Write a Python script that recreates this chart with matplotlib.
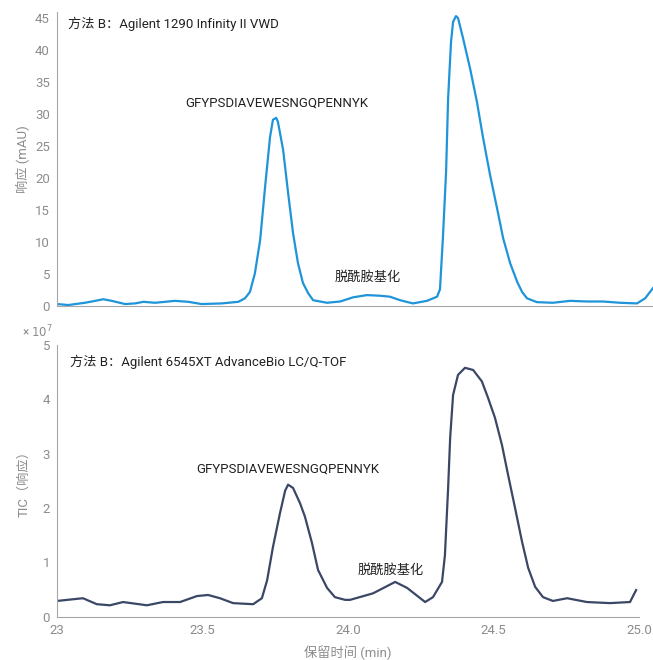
import numpy as np
import matplotlib.pyplot as plt

plt.rcParams['font.family'] = ['Roboto', 'Noto Sans CJK SC', 'DejaVu Sans']

# UV trace (VWD), mAU
uv_time = [23.000, 23.039, 23.096, 23.131, 23.159, 23.188, 23.234, 23.268, 23.297, 23.337,
           23.405, 23.451, 23.497, 23.566, 23.623, 23.646, 23.663, 23.680, 23.698, 23.715,
           23.732, 23.742, 23.753, 23.759, 23.777, 23.794, 23.811, 23.828, 23.845, 23.863,
           23.880, 23.928, 23.973, 24.017, 24.065, 24.110, 24.144, 24.179, 24.223, 24.271,
           24.306, 24.316, 24.326, 24.337, 24.344, 24.354, 24.361, 24.371, 24.378, 24.395,
           24.419, 24.443, 24.464, 24.488, 24.512, 24.533, 24.557, 24.581, 24.598, 24.615,
           24.649, 24.704, 24.763, 24.821, 24.876, 24.935, 24.993, 25.021, 25.048]
uv_resp = [0.3, 0.15, 0.5, 0.8, 1.05, 0.8, 0.3, 0.4, 0.65, 0.5,
           0.8, 0.65, 0.3, 0.4, 0.65, 1.2, 2.2, 5.1, 10.3, 18.6,
           26.4, 29.1, 29.4, 28.8, 24.4, 17.7, 11.4, 6.7, 3.6, 2.0,
           0.9, 0.5, 0.7, 1.35, 1.7, 1.6, 1.45, 0.9, 0.4, 0.8,
           1.45, 2.6, 10.6, 21.0, 32.5, 41.3, 44.4, 45.3, 45.0, 41.9,
           37.2, 31.9, 26.3, 20.5, 15.3, 10.6, 6.7, 3.8, 2.2, 1.2,
           0.6, 0.5, 0.8, 0.7, 0.7, 0.5, 0.4, 1.2, 2.8]

# MS trace (TIC), x 10^7
tic_time = [23.000, 23.089, 23.137, 23.182, 23.227, 23.309, 23.364, 23.423, 23.481, 23.519,
            23.560, 23.605, 23.674, 23.704, 23.722, 23.742, 23.766, 23.784, 23.794, 23.811,
            23.835, 23.852, 23.876, 23.897, 23.928, 23.955, 23.990, 24.007, 24.086, 24.162,
            24.203, 24.265, 24.292, 24.323, 24.333, 24.344, 24.351, 24.361, 24.378, 24.402,
            24.430, 24.460, 24.481, 24.505, 24.529, 24.550, 24.574, 24.598, 24.619, 24.643,
            24.670, 24.704, 24.753, 24.821, 24.900, 24.969, 24.990]
tic_resp = [0.29, 0.34, 0.23, 0.21, 0.27, 0.21, 0.27, 0.27, 0.38, 0.40,
            0.34, 0.25, 0.23, 0.34, 0.67, 1.28, 1.90, 2.32, 2.43, 2.37,
            2.09, 1.84, 1.36, 0.86, 0.53, 0.36, 0.31, 0.31, 0.43, 0.64,
            0.53, 0.27, 0.36, 0.64, 1.13, 2.37, 3.29, 4.08, 4.45, 4.58,
            4.54, 4.33, 4.03, 3.66, 3.16, 2.61, 2.00, 1.38, 0.90, 0.55,
            0.36, 0.29, 0.34, 0.27, 0.25, 0.27, 0.49]

uv_yticks = [0, 5, 10, 15, 20, 25, 30, 35, 40, 45]
tic_yticks = [0, 1, 2, 3, 4, 5]
xticks = [23, 23.5, 24.0, 24.5, 25.0]
xtick_labels = ['23', '23.5', '24.0', '24.5', '25.0']

peptide = 'GFYPSDIAVEWESNGQPENNYK'
deamid = '脱酰胺基化'

gray = '#8c8c8c'
spine_gray = '#a6a6a6'
blue = '#1f94d8'
navy = '#3a4866'

fig = plt.figure(figsize=(6.53, 6.60), dpi=100)
ax1 = fig.add_axes([0.0873, 0.5364, 0.9127, 0.446])
ax2 = fig.add_axes([0.0873, 0.0656, 0.8913, 0.4117])

for ax in (ax1, ax2):
    for s in ('top', 'right'):
        ax.spines[s].set_visible(False)
    ax.spines['left'].set_color(spine_gray)
    ax.spines['bottom'].set_color(spine_gray)
    ax.tick_params(length=0, labelcolor=gray, labelsize=9.5, pad=5)

ax1.plot(uv_time, uv_resp, color=blue, lw=1.6, solid_joinstyle='round')
ax1.set_xlim(23, 25.048)
ax1.set_ylim(0, 46)
ax1.set_yticks(uv_yticks)
ax1.set_xticks([])
ax1.set_ylabel('响应 (mAU)', color=gray, fontsize=9.5, labelpad=4)
ax1.text(0.018, 0.958, '方法 B：Agilent 1290 Infinity II VWD', transform=ax1.transAxes,
         fontsize=9.5, va='center', ha='left', color='#222222')
ax1.text(23.756, 31.7, peptide, fontsize=9.5, ha='center', va='center', color='#222222')
ax1.text(24.069, 4.5, deamid, fontsize=9.5, ha='center', va='center', color='#222222')

ax2.plot(tic_time, tic_resp, color=navy, lw=1.6, solid_joinstyle='round')
ax2.set_xlim(23, 25.0)
ax2.set_ylim(0, 5)
ax2.set_yticks(tic_yticks)
ax2.set_xticks(xticks)
ax2.set_xticklabels(xtick_labels)
ax2.set_ylabel('TIC（响应）', color=gray, fontsize=9.5, labelpad=9)
ax2.set_xlabel('保留时间 (min)', color=gray, fontsize=9.5, labelpad=6)
ax2.text(23.045, 4.69, '方法 B：Agilent 6545XT AdvanceBio LC/Q-TOF', fontsize=9.5,
         va='center', ha='left', color='#222222')
ax2.text(23.794, 2.72, peptide, fontsize=9.5, ha='center', va='center', color='#222222')
ax2.text(24.148, 0.86, deamid, fontsize=9.5, ha='center', va='center', color='#222222')
fig.text(0.034, 0.497, r'× $10^7$', fontsize=8.5, color=gray, ha='left', va='center')

fig.savefig('out.png', dpi=100)
